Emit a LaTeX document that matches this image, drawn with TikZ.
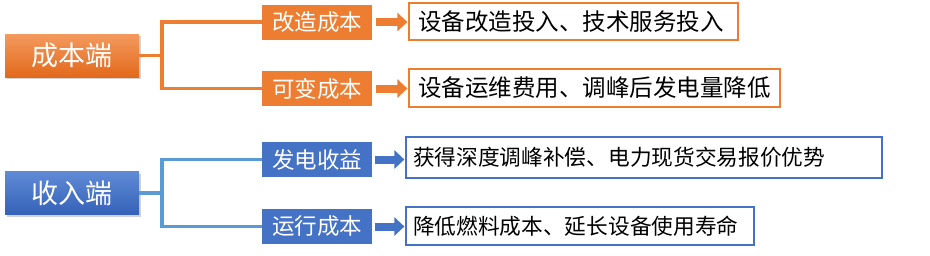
\documentclass[tikz,border=0pt]{standalone}
\usepackage{fontspec}
\setmainfont{Noto Sans CJK SC}
\usetikzlibrary{arrows.meta,shadows}
\definecolor{orA}{HTML}{ED7D31}
\definecolor{orTop}{HTML}{F49A5E}
\definecolor{orBot}{HTML}{E2691B}
\definecolor{blA}{HTML}{4472C4}
\definecolor{blTop}{HTML}{5F8AD6}
\definecolor{blBot}{HTML}{3562B8}
\definecolor{blLine}{HTML}{5B9BD5}
\tikzset{
  rootbox/.style={minimum width=134pt,minimum height=43pt,inner sep=0pt,text=white,font=\fontsize{27}{31}\selectfont,drop shadow={shadow xshift=1.5pt,shadow yshift=-2pt,opacity=0.35}},
  childbox/.style={minimum width=110pt,minimum height=35pt,inner sep=0pt,text=white,fill=#1,font=\fontsize{22.5}{26}\selectfont},
  textbox/.style={draw=#1,line width=1.2pt,inner sep=0pt,text=black},
  conn/.style={line width=3.5pt,draw=#1},
  barrow/.style={line width=8pt,draw=#1,-{Triangle[length=10pt,width=18pt]}}
}
\begin{document}
\begin{tikzpicture}[x=1pt,y=-1pt]
\useasboundingbox[fill=white] (0,0) rectangle (930,255);
% orange group
\node[rootbox,top color=orTop,bottom color=orBot] (r1) at (72,55.5) {成本端};
\node[childbox=orA] (c1) at (317,22) {改造成本};
\node[childbox=orA] (c2) at (317,88.5) {可变成本};
\node[textbox=orA,font=\fontsize{23.5}{27}\selectfont,minimum width=329pt,minimum height=37pt,text width=311pt,align=left] (t1) at (573.5,21.5) {设备改造投入、技术服务投入};
\node[textbox=orA,font=\fontsize{23.5}{27}\selectfont,minimum width=371pt,minimum height=38pt,text width=353pt,align=left] (t2) at (594.5,88) {设备运维费用、调峰后发电量降低};
\draw[conn=orA] (r1.east) -- ++(23,0) coordinate (j1);
\draw[conn=orA] (c1.west) -| (j1) |- (c2.west);
\draw[barrow=orA] ([xshift=4pt]c1.east) -- ([xshift=-1pt]t1.west|-c1.east);
\draw[barrow=orA] ([xshift=4pt]c2.east) -- ([xshift=-1pt]t2.west|-c2.east);
% blue group
\node[rootbox,top color=blTop,bottom color=blBot] (r2) at (72,193) {收入端};
\node[childbox=blA] (c3) at (317,159.5) {发电收益};
\node[childbox=blA] (c4) at (317,226.5) {运行成本};
\node[textbox=blA,font=\fontsize{21.7}{25}\selectfont,minimum width=476pt,minimum height=41pt,text width=462pt,align=left] (t3) at (644,157.5) {获得深度调峰补偿、电力现货交易报价优势};
\node[textbox=blA,font=\fontsize{21.7}{25}\selectfont,minimum width=348pt,minimum height=38pt,text width=334pt,align=left] (t4) at (580,226) {降低燃料成本、延长设备使用寿命};
\draw[conn=blLine] (r2.east) -- ++(23,0) coordinate (j2);
\draw[conn=blLine] (c3.west) -| (j2) |- (c4.west);
\draw[barrow=blA] ([xshift=3pt]c3.east) -- ([xshift=-1pt]t3.west|-c3.east);
\draw[barrow=blA] ([xshift=3pt]c4.east) -- ([xshift=-1pt]t4.west|-c4.east);
\end{tikzpicture}
\end{document}
